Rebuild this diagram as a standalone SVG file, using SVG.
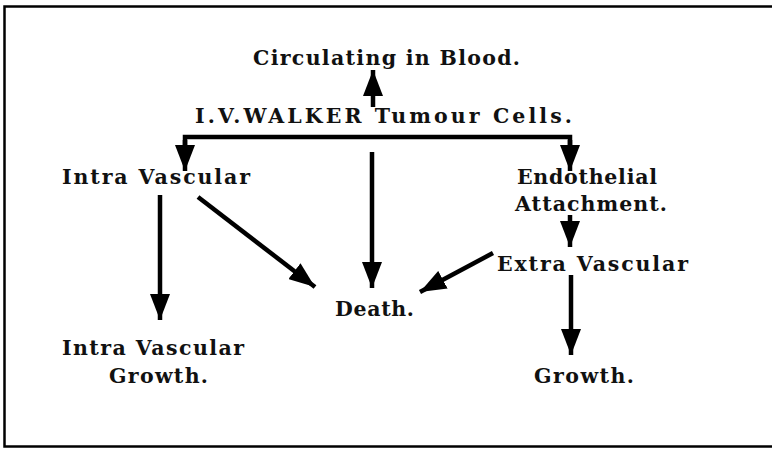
<svg xmlns="http://www.w3.org/2000/svg" width="772" height="450" viewBox="0 0 772 450">
<style>
.t{font-family:"DejaVu Serif","Liberation Serif",serif;font-weight:bold;font-size:20.5px;fill:#111}
.c{stroke:#000;stroke-width:4.5;fill:none}
</style>
<defs>
<marker id="ah" markerUnits="userSpaceOnUse" markerWidth="28" markerHeight="20" refX="26" refY="10" orient="auto">
<path d="M0,0 L26,10 L0,20 Z" fill="#000"/>
</marker>
</defs>
<rect x="0" y="0" width="772" height="450" fill="#fff"/>
<rect x="4.5" y="6.5" width="775" height="440" fill="none" stroke="#000" stroke-width="2.5"/>
<g id="circulating"><text class="t" x="253" y="65" textLength="267" lengthAdjust="spacing">Circulating in Blood.</text></g>
<g id="walker"><text class="t" x="195" y="123" textLength="377" lengthAdjust="spacing">I.V.WALKER Tumour Cells.</text></g>
<g id="intra"><text class="t" x="62" y="184" textLength="188" lengthAdjust="spacing">Intra Vascular</text></g>
<g id="endothelial"><text class="t" x="517" y="184" textLength="140" lengthAdjust="spacing">Endothelial</text><text class="t" x="515" y="211" textLength="152" lengthAdjust="spacing">Attachment.</text></g>
<g id="extra"><text class="t" x="497" y="271" textLength="191" lengthAdjust="spacing">Extra Vascular</text></g>
<g id="death"><text class="t" x="335" y="316" textLength="79" lengthAdjust="spacing">Death.</text></g>
<g id="intragrowth"><text class="t" x="62" y="355" textLength="182" lengthAdjust="spacing">Intra Vascular</text><text class="t" x="109" y="383" textLength="99" lengthAdjust="spacing">Growth.</text></g>
<g id="growth"><text class="t" x="534" y="383" textLength="100" lengthAdjust="spacing">Growth.</text></g>
<g id="connectors">
<path class="c" d="M373,107 L373,70" marker-end="url(#ah)"/>
<path class="c" d="M185,150 L185,137 L570,137 L570,150"/>
<path class="c" d="M185,140 L185,171" marker-end="url(#ah)"/>
<path class="c" d="M570,140 L570,171" marker-end="url(#ah)"/>
<path class="c" d="M160,195 L160,320" marker-end="url(#ah)"/>
<path class="c" d="M198,197 L315,287" marker-end="url(#ah)"/>
<path class="c" d="M372,152 L372,288" marker-end="url(#ah)"/>
<path class="c" d="M570,215 L570,247" marker-end="url(#ah)"/>
<path class="c" d="M493,253 L420,292" marker-end="url(#ah)"/>
<path class="c" d="M571,275 L571,355" marker-end="url(#ah)"/>
</g>
</svg>
